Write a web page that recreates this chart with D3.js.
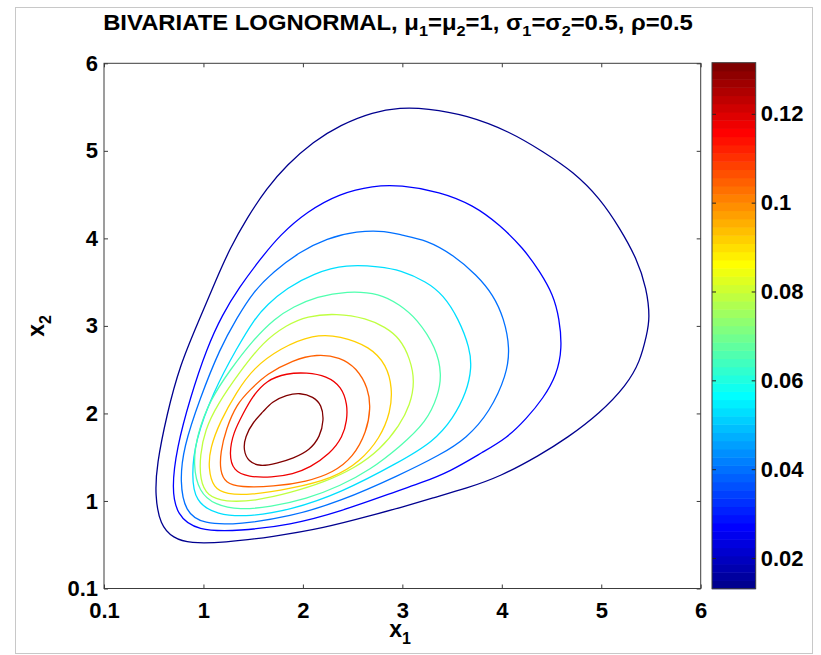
<!DOCTYPE html>
<html>
<head>
<meta charset="utf-8">
<script src="https://cdn.jsdelivr.net/npm/d3@7"></script>
<style>
  body { margin: 0; background: #fff; }
  svg { display: block; }
  text { font-family: "Liberation Sans", Arial, sans-serif; font-weight: bold; fill: #000; }
</style>
</head>
<body>
<svg id="chart" width="821" height="655"></svg>
<script>
// contour levels (density values), 10 of them
const levels = [0.0131, 0.0263, 0.0394, 0.0526, 0.0657, 0.0789, 0.0920, 0.1052, 0.1183, 0.1315];

// axis ticks
const xTicks = [0, 1, 2, 3, 4, 5, 6];
const xTickLabels = ['0.1', '1', '2', '3', '4', '5', '6'];
const yTicks = [0, 1, 2, 3, 4, 5, 6];
const yTickLabels = ['0.1', '1', '2', '3', '4', '5', '6'];
const cbTicks = [0.02, 0.04, 0.06, 0.08, 0.1, 0.12];

// contour lines, [x1, x2], outermost first
const c1 = [[2.976,5.493],[3.245,5.486],[3.647,5.410],[4.083,5.219],[4.417,4.990],[4.719,4.762],[4.987,4.458],[5.188,4.115],[5.356,3.772],[5.457,3.430],[5.490,3.087],[5.457,2.896],[5.390,2.591],[5.256,2.325],[4.987,2.002],[4.653,1.716],[4.384,1.525],[3.982,1.277],[3.647,1.145],[3.311,1.037],[2.976,0.923],[2.708,0.840],[2.205,0.688],[1.702,0.592],[1.200,0.523],[0.865,0.516],[0.697,0.574],[0.563,0.725],[0.513,1.068],[0.530,1.411],[0.630,1.982],[0.764,2.554],[0.950,3.050],[1.133,3.544],[1.267,3.887],[1.435,4.229],[1.636,4.572],[1.837,4.838],[2.105,5.105],[2.373,5.295],[2.708,5.447]];
const c2 = [[2.976,4.610],[3.379,4.533],[3.713,4.381],[3.982,4.153],[4.216,3.887],[4.384,3.619],[4.518,3.353],[4.578,3.087],[4.608,2.744],[4.552,2.439],[4.417,2.173],[4.250,1.944],[4.049,1.716],[3.814,1.563],[3.479,1.334],[3.177,1.202],[2.976,1.125],[2.373,0.877],[1.870,0.725],[1.367,0.657],[0.932,0.657],[0.731,0.840],[0.681,1.145],[0.731,1.602],[0.865,2.173],[1.033,2.744],[1.190,3.130],[1.360,3.440],[1.569,3.760],[1.770,4.039],[2.038,4.305],[2.373,4.515],[2.708,4.602]];
const c3 = [[2.976,4.039],[3.245,3.982],[3.512,3.810],[3.748,3.582],[3.915,3.353],[4.022,3.087],[4.083,2.744],[4.049,2.439],[3.881,2.020],[3.647,1.716],[3.379,1.525],[2.976,1.297],[2.373,0.992],[1.870,0.820],[1.367,0.733],[0.998,0.733],[0.814,0.877],[0.764,1.220],[0.797,1.602],[0.965,2.173],[1.166,2.744],[1.334,3.087],[1.501,3.391],[1.702,3.619],[1.971,3.848],[2.239,4.001],[2.541,4.084],[2.843,4.084]];
const c4 = [[2.976,3.639],[3.245,3.505],[3.412,3.353],[3.563,3.087],[3.680,2.744],[3.697,2.516],[3.647,2.248],[3.512,1.944],[3.311,1.677],[2.976,1.449],[2.373,1.088],[1.870,0.897],[1.468,0.820],[1.133,0.840],[0.915,0.992],[0.882,1.297],[0.915,1.677],[1.099,2.248],[1.334,2.744],[1.518,3.087],[1.636,3.239],[1.837,3.430],[2.105,3.601],[2.440,3.704],[2.775,3.676]];
const c5 = [[1.719,3.087],[1.903,3.219],[2.139,3.334],[2.440,3.399],[2.775,3.373],[2.976,3.239],[3.144,3.087],[3.345,2.744],[3.396,2.439],[3.361,2.211],[3.245,1.906],[2.976,1.620],[2.675,1.354],[2.373,1.171],[2.038,1.023],[1.669,0.932],[1.367,0.897],[1.116,0.954],[0.955,1.102],[0.895,1.411],[0.934,1.754],[1.066,2.154],[1.267,2.496],[1.498,2.839]];
const c6 = [[1.602,2.820],[1.837,3.010],[2.038,3.113],[2.340,3.144],[2.641,3.087],[2.826,2.988],[2.976,2.858],[3.077,2.630],[3.127,2.363],[3.077,2.096],[2.976,1.868],[2.775,1.583],[2.524,1.377],[2.222,1.217],[1.870,1.091],[1.518,1.000],[1.217,0.989],[1.036,1.057],[0.965,1.240],[0.965,1.525],[1.016,1.811],[1.136,2.096],[1.367,2.477]];
const c7 = [[2.105,2.904],[2.373,2.888],[2.675,2.763],[2.843,2.553],[2.899,2.287],[2.883,2.020],[2.775,1.716],[2.574,1.449],[2.306,1.259],[1.870,1.137],[1.468,1.068],[1.234,1.076],[1.099,1.145],[1.049,1.373],[1.066,1.602],[1.166,1.906],[1.334,2.248],[1.501,2.516],[1.770,2.744]];
const c8 = [[1.903,2.611],[2.139,2.679],[2.373,2.645],[2.541,2.519],[2.658,2.287],[2.682,2.059],[2.641,1.791],[2.507,1.502],[2.306,1.325],[2.038,1.220],[1.702,1.163],[1.367,1.156],[1.222,1.205],[1.166,1.342],[1.171,1.559],[1.227,1.822],[1.334,2.108],[1.468,2.268],[1.634,2.451]];
const c9 = [[1.636,2.382],[1.837,2.459],[2.038,2.468],[2.239,2.428],[2.390,2.306],[2.448,2.096],[2.443,1.925],[2.403,1.734],[2.272,1.537],[2.071,1.382],[1.903,1.308],[1.686,1.268],[1.451,1.274],[1.300,1.342],[1.257,1.537],[1.300,1.782],[1.401,2.002],[1.488,2.188]];
const c10 = [[1.602,2.020],[1.686,2.134],[1.837,2.211],[1.971,2.237],[2.105,2.191],[2.189,2.096],[2.212,1.925],[2.172,1.734],[2.071,1.582],[1.903,1.487],[1.737,1.430],[1.569,1.392],[1.451,1.449],[1.401,1.582],[1.418,1.734],[1.501,1.906]];
const contours = [c1, c2, c3, c4, c5, c6, c7, c8, c9, c10];

// MATLAB jet(64)
function jet64() {
    const m = 64, n = 16;
    const u = [];
    for (let i = 1; i <= n; i++) u.push(i / n);
    for (let i = 0; i < n - 1; i++) u.push(1);
    for (let i = n; i >= 1; i--) u.push(i / n);
    const J = d3.range(m).map(() => [0, 0, 0]);
    u.forEach((v, k) => {
        const g = 8 + k + 1, r = g + n, b = g - n;
        if (r <= m) J[r - 1][0] = v;
        if (g <= m) J[g - 1][1] = v;
        if (b >= 1) J[b - 1][2] = v;
    });
    return J.map(c => d3.rgb(c[0] * 255, c[1] * 255, c[2] * 255).formatHex());
}
const jet = jet64();

const svg = d3.select('#chart');

// figure frame
svg.append('rect')
    .attr('x', 15.5).attr('y', 7.5).attr('width', 797).attr('height', 646)
    .attr('fill', 'none').attr('stroke', '#c8c8c8');

const plot = { left: 104, right: 700.7, top: 63.3, bottom: 588.5 };
const x = d3.scaleLinear().domain([0, 6]).range([plot.left, plot.right]);
const y = d3.scaleLinear().domain([0, 6]).range([plot.bottom, plot.top]);

const colorScale = d3.scaleQuantize()
    .domain([levels[0], levels[levels.length - 1]])
    .range(jet);

// contours (B-spline to smooth out tracing noise)
const line = d3.line()
    .x(d => x(d[0]))
    .y(d => y(d[1]))
    .curve(d3.curveBasisClosed);

svg.append('g')
    .selectAll('path')
    .data(contours)
    .join('path')
    .attr('fill', 'none')
    .attr('stroke', (d, i) => colorScale(levels[i]))
    .attr('stroke-width', 1.3)
    .attr('d', line);

// axes
const axisColor = '#3c3c3c';
const fontSize = '22px';

const gx = svg.append('g')
    .attr('transform', `translate(0,${plot.bottom})`)
    .call(d3.axisBottom(x).tickValues(xTicks).tickSize(-4).tickPadding(14)
        .tickFormat((d, i) => xTickLabels[i]));
const gxTop = svg.append('g')
    .attr('transform', `translate(0,${plot.top})`)
    .call(d3.axisTop(x).tickValues(xTicks).tickSize(-4).tickFormat(''));
const gy = svg.append('g')
    .attr('transform', `translate(${plot.left},0)`)
    .call(d3.axisLeft(y).tickValues(yTicks).tickSize(-4).tickPadding(6)
        .tickFormat((d, i) => yTickLabels[i]));
const gyRight = svg.append('g')
    .attr('transform', `translate(${plot.right},0)`)
    .call(d3.axisRight(y).tickValues(yTicks).tickSize(-4).tickFormat(''));

[gx, gxTop, gy, gyRight].forEach(g => {
    g.select('.domain').remove();
    g.selectAll('line').attr('stroke', axisColor);
    g.selectAll('text').style('font-size', fontSize).attr('fill', '#000')
        .style('font-family', '"Liberation Sans", Arial, sans-serif').style('font-weight', 'bold');
});

svg.append('rect')
    .attr('x', plot.left).attr('y', plot.top)
    .attr('width', plot.right - plot.left).attr('height', plot.bottom - plot.top)
    .attr('fill', 'none').attr('stroke', axisColor).attr('stroke-width', 1);

// axis labels
const xl = svg.append('text')
    .attr('x', 400).attr('y', 637)
    .attr('text-anchor', 'middle')
    .style('font-size', '23px');
xl.append('tspan').text('x');
xl.append('tspan').attr('dy', 7).style('font-size', '16px').text('1');

const yl = svg.append('text')
    .attr('transform', 'translate(44,326) rotate(-90)')
    .attr('text-anchor', 'middle')
    .style('font-size', '23px');
yl.append('tspan').text('x');
yl.append('tspan').attr('dy', 7).style('font-size', '16px').text('2');

// title
const title = svg.append('text')
    .attr('x', 398).attr('y', 30)
    .attr('text-anchor', 'middle')
    .style('font-size', '22px');
const titleParts = [
    ['BIVARIATE LOGNORMAL, μ', false], ['1', true], ['=μ', false], ['2', true],
    ['=1, σ', false], ['1', true], ['=σ', false], ['2', true], ['=0.5, ρ=0.5', false]
];
let sub = false;
titleParts.forEach(([t, s]) => {
    const ts = title.append('tspan').text(t);
    if (s && !sub) ts.attr('dy', 6).style('font-size', '15px');
    if (!s && sub) ts.attr('dy', -6);
    sub = s;
});
// squeeze title to the width it has in the picture
const tb = title.node().getBBox();
const targetW = 590;
const sx = targetW / tb.width;
title.attr('transform', `translate(${398 * (1 - sx)},0) scale(${sx},1)`);

// colorbar
const cb = { left: 712, right: 755.7, top: 62.7, bottom: 588.7 };
const cy = d3.scaleLinear().domain([levels[0], levels[levels.length - 1]]).range([cb.bottom, cb.top]);
const bandH = (cb.bottom - cb.top) / jet.length;
svg.append('g')
    .selectAll('rect')
    .data(jet)
    .join('rect')
    .attr('x', cb.left)
    .attr('y', (d, i) => cb.bottom - (i + 1) * bandH)
    .attr('width', cb.right - cb.left)
    .attr('height', bandH + 0.5)
    .attr('fill', d => d);

const gcb = svg.append('g')
    .attr('transform', `translate(${cb.right},0)`)
    .call(d3.axisRight(cy).tickValues(cbTicks).tickSize(-4).tickPadding(5).tickFormat(d3.format('')));
const gcbL = svg.append('g')
    .attr('transform', `translate(${cb.left},0)`)
    .call(d3.axisLeft(cy).tickValues(cbTicks).tickSize(-4).tickFormat(''));
[gcb, gcbL].forEach(g => {
    g.select('.domain').remove();
    g.selectAll('line').attr('stroke', '#222');
    g.selectAll('text').style('font-size', fontSize).attr('fill', '#000')
        .style('font-family', '"Liberation Sans", Arial, sans-serif').style('font-weight', 'bold');
});
svg.append('rect')
    .attr('x', cb.left).attr('y', cb.top)
    .attr('width', cb.right - cb.left).attr('height', cb.bottom - cb.top)
    .attr('fill', 'none').attr('stroke', axisColor);
</script>
</body>
</html>
